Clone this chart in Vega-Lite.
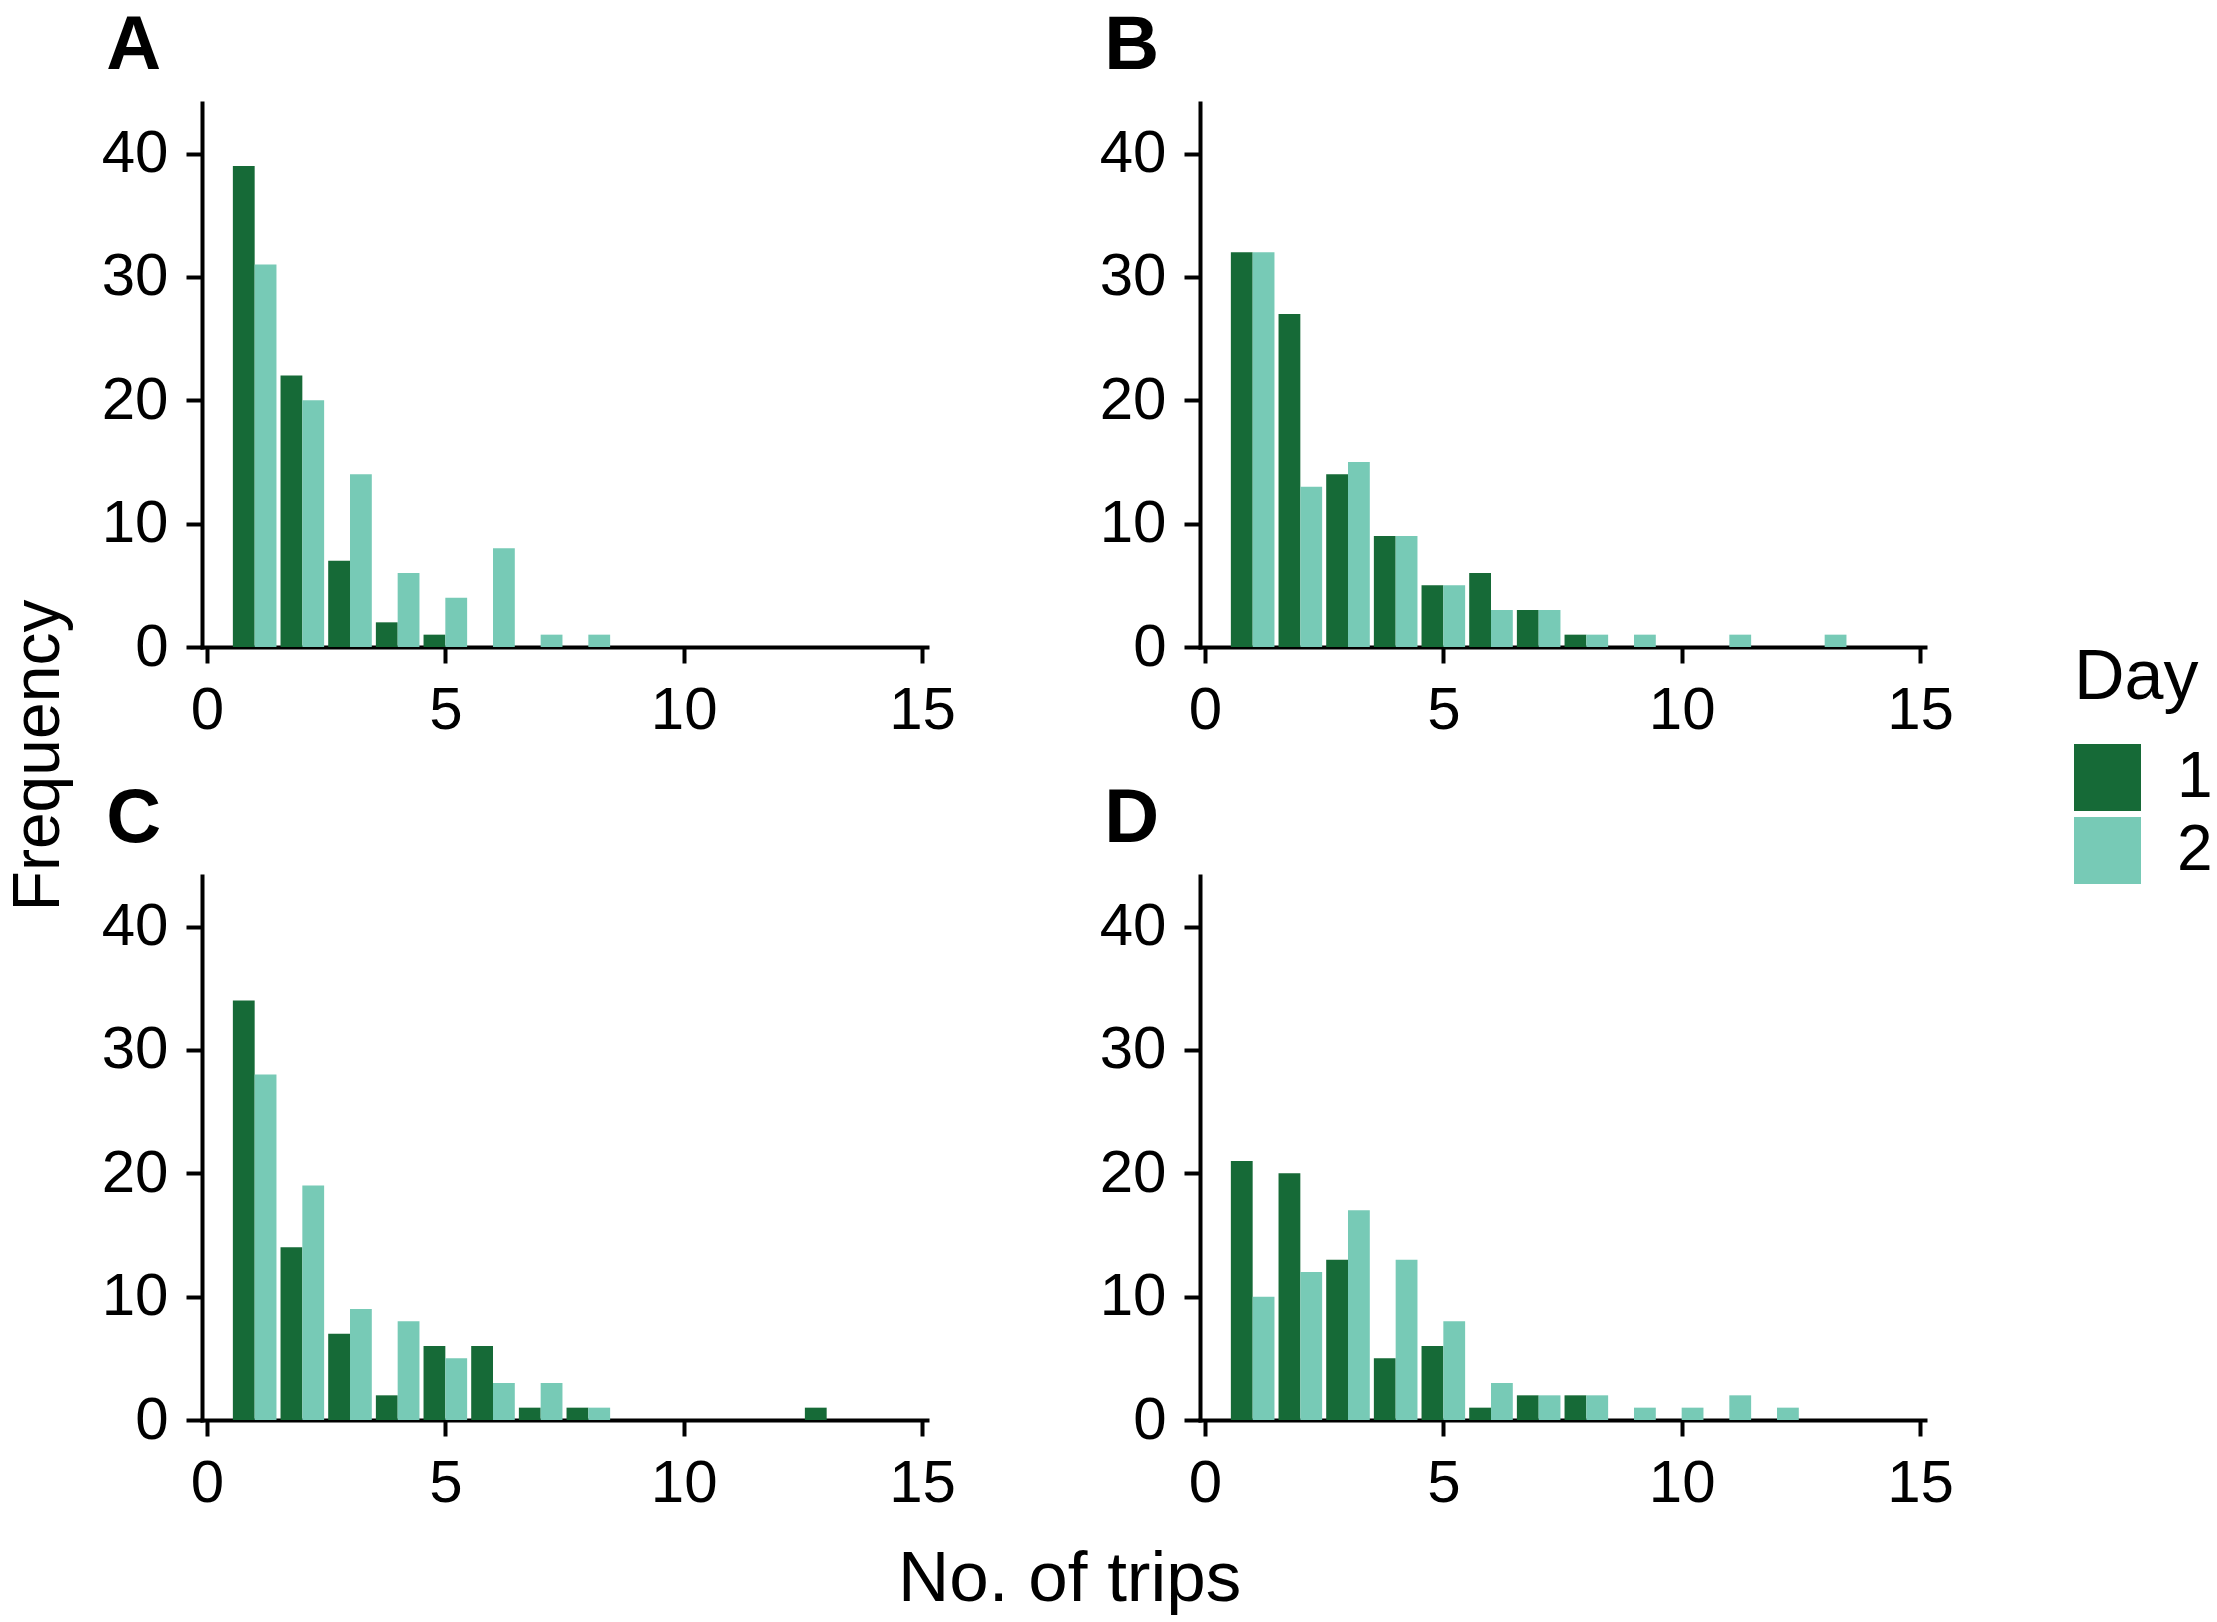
{
  "$schema": "https://vega.github.io/schema/vega-lite/v6.json",
  "background": "white",
  "padding": {"left": 6, "top": 8, "right": 0, "bottom": 0},
  "data": {"values": [
    {"panel":"A","day":"1","trips":1,"freq":39},{"panel":"A","day":"1","trips":2,"freq":22},{"panel":"A","day":"1","trips":3,"freq":7},{"panel":"A","day":"1","trips":4,"freq":2},{"panel":"A","day":"1","trips":5,"freq":1},
    {"panel":"A","day":"2","trips":1,"freq":31},{"panel":"A","day":"2","trips":2,"freq":20},{"panel":"A","day":"2","trips":3,"freq":14},{"panel":"A","day":"2","trips":4,"freq":6},{"panel":"A","day":"2","trips":5,"freq":4},{"panel":"A","day":"2","trips":6,"freq":8},{"panel":"A","day":"2","trips":7,"freq":1},{"panel":"A","day":"2","trips":8,"freq":1},
    {"panel":"B","day":"1","trips":1,"freq":32},{"panel":"B","day":"1","trips":2,"freq":27},{"panel":"B","day":"1","trips":3,"freq":14},{"panel":"B","day":"1","trips":4,"freq":9},{"panel":"B","day":"1","trips":5,"freq":5},{"panel":"B","day":"1","trips":6,"freq":6},{"panel":"B","day":"1","trips":7,"freq":3},{"panel":"B","day":"1","trips":8,"freq":1},
    {"panel":"B","day":"2","trips":1,"freq":32},{"panel":"B","day":"2","trips":2,"freq":13},{"panel":"B","day":"2","trips":3,"freq":15},{"panel":"B","day":"2","trips":4,"freq":9},{"panel":"B","day":"2","trips":5,"freq":5},{"panel":"B","day":"2","trips":6,"freq":3},{"panel":"B","day":"2","trips":7,"freq":3},{"panel":"B","day":"2","trips":8,"freq":1},{"panel":"B","day":"2","trips":9,"freq":1},{"panel":"B","day":"2","trips":11,"freq":1},{"panel":"B","day":"2","trips":13,"freq":1},
    {"panel":"C","day":"1","trips":1,"freq":34},{"panel":"C","day":"1","trips":2,"freq":14},{"panel":"C","day":"1","trips":3,"freq":7},{"panel":"C","day":"1","trips":4,"freq":2},{"panel":"C","day":"1","trips":5,"freq":6},{"panel":"C","day":"1","trips":6,"freq":6},{"panel":"C","day":"1","trips":7,"freq":1},{"panel":"C","day":"1","trips":8,"freq":1},{"panel":"C","day":"1","trips":13,"freq":1},
    {"panel":"C","day":"2","trips":1,"freq":28},{"panel":"C","day":"2","trips":2,"freq":19},{"panel":"C","day":"2","trips":3,"freq":9},{"panel":"C","day":"2","trips":4,"freq":8},{"panel":"C","day":"2","trips":5,"freq":5},{"panel":"C","day":"2","trips":6,"freq":3},{"panel":"C","day":"2","trips":7,"freq":3},{"panel":"C","day":"2","trips":8,"freq":1},
    {"panel":"D","day":"1","trips":1,"freq":21},{"panel":"D","day":"1","trips":2,"freq":20},{"panel":"D","day":"1","trips":3,"freq":13},{"panel":"D","day":"1","trips":4,"freq":5},{"panel":"D","day":"1","trips":5,"freq":6},{"panel":"D","day":"1","trips":6,"freq":1},{"panel":"D","day":"1","trips":7,"freq":2},{"panel":"D","day":"1","trips":8,"freq":2},
    {"panel":"D","day":"2","trips":1,"freq":10},{"panel":"D","day":"2","trips":2,"freq":12},{"panel":"D","day":"2","trips":3,"freq":17},{"panel":"D","day":"2","trips":4,"freq":13},{"panel":"D","day":"2","trips":5,"freq":8},{"panel":"D","day":"2","trips":6,"freq":3},{"panel":"D","day":"2","trips":7,"freq":2},{"panel":"D","day":"2","trips":8,"freq":2},{"panel":"D","day":"2","trips":9,"freq":1},{"panel":"D","day":"2","trips":10,"freq":1},{"panel":"D","day":"2","trips":11,"freq":2},{"panel":"D","day":"2","trips":12,"freq":1}
  ]},
  "title": {"text": "No. of trips", "orient": "bottom", "anchor": "middle", "fontSize": 71, "fontWeight": "normal", "baseline": "alphabetic", "offset": 88, "dx": -40, "frame": "bounds"},
  "resolve": {"scale": {"color": "shared"}, "legend": {"color": "shared"}},
  "vconcat": [
    {
      "title": {"text": "Frequency", "orient": "left", "anchor": "middle", "fontSize": 66, "fontWeight": "normal", "baseline": "alphabetic", "offset": -24, "frame": "bounds"},
      "columns": 2,
      "spacing": {"column": 143, "row": 41},
      "resolve": {"scale": {"color": "shared"}, "legend": {"color": "shared"}},
      "concat": [
        {
          "title": {"text": "A"},
          "width": 725, "height": 544,
          "transform": [{"filter": "datum.panel === 'A'"}],
          "encoding": {
            "x": {"field": "trips", "type": "quantitative", "scale": {"domain": [0, 15], "nice": false, "zero": false}, "axis": {"values": [0, 5, 10, 15], "title": null}},
            "y": {"field": "freq", "type": "quantitative", "scale": {"domain": [0, 44.1], "nice": false}, "axis": {"values": [0, 10, 20, 30, 40], "title": null}},
            "color": {"field": "day", "type": "nominal", "scale": {"domain": ["1", "2"], "range": ["#166a37", "#77cab6"]}, "legend": {"title": "Day", "orient": "none", "legendX": 1872, "legendY": 541}}
          },
          "layer": [
            {"transform": [{"filter": "datum.day === '1'"}], "mark": {"type": "bar", "width": 21.8, "xOffset": -10.9}},
            {"transform": [{"filter": "datum.day === '2'"}], "mark": {"type": "bar", "width": 21.8, "xOffset": 10.9}}
          ]
        },
        {
          "title": {"text": "B"},
          "width": 725, "height": 544,
          "transform": [{"filter": "datum.panel === 'B'"}],
          "encoding": {
            "x": {"field": "trips", "type": "quantitative", "scale": {"domain": [0, 15], "nice": false, "zero": false}, "axis": {"values": [0, 5, 10, 15], "title": null}},
            "y": {"field": "freq", "type": "quantitative", "scale": {"domain": [0, 44.1], "nice": false}, "axis": {"values": [0, 10, 20, 30, 40], "title": null}},
            "color": {"field": "day", "type": "nominal", "scale": {"domain": ["1", "2"], "range": ["#166a37", "#77cab6"]}, "legend": {"title": "Day", "orient": "none", "legendX": 1872, "legendY": 541}}
          },
          "layer": [
            {"transform": [{"filter": "datum.day === '1'"}], "mark": {"type": "bar", "width": 21.8, "xOffset": -10.9}},
            {"transform": [{"filter": "datum.day === '2'"}], "mark": {"type": "bar", "width": 21.8, "xOffset": 10.9}}
          ]
        },
        {
          "title": {"text": "C"},
          "width": 725, "height": 544,
          "transform": [{"filter": "datum.panel === 'C'"}],
          "encoding": {
            "x": {"field": "trips", "type": "quantitative", "scale": {"domain": [0, 15], "nice": false, "zero": false}, "axis": {"values": [0, 5, 10, 15], "title": null}},
            "y": {"field": "freq", "type": "quantitative", "scale": {"domain": [0, 44.1], "nice": false}, "axis": {"values": [0, 10, 20, 30, 40], "title": null}},
            "color": {"field": "day", "type": "nominal", "scale": {"domain": ["1", "2"], "range": ["#166a37", "#77cab6"]}, "legend": {"title": "Day", "orient": "none", "legendX": 1872, "legendY": 541}}
          },
          "layer": [
            {"transform": [{"filter": "datum.day === '1'"}], "mark": {"type": "bar", "width": 21.8, "xOffset": -10.9}},
            {"transform": [{"filter": "datum.day === '2'"}], "mark": {"type": "bar", "width": 21.8, "xOffset": 10.9}}
          ]
        },
        {
          "title": {"text": "D"},
          "width": 725, "height": 544,
          "transform": [{"filter": "datum.panel === 'D'"}],
          "encoding": {
            "x": {"field": "trips", "type": "quantitative", "scale": {"domain": [0, 15], "nice": false, "zero": false}, "axis": {"values": [0, 5, 10, 15], "title": null}},
            "y": {"field": "freq", "type": "quantitative", "scale": {"domain": [0, 44.1], "nice": false}, "axis": {"values": [0, 10, 20, 30, 40], "title": null}},
            "color": {"field": "day", "type": "nominal", "scale": {"domain": ["1", "2"], "range": ["#166a37", "#77cab6"]}, "legend": {"title": "Day", "orient": "none", "legendX": 1872, "legendY": 541}}
          },
          "layer": [
            {"transform": [{"filter": "datum.day === '1'"}], "mark": {"type": "bar", "width": 21.8, "xOffset": -10.9}},
            {"transform": [{"filter": "datum.day === '2'"}], "mark": {"type": "bar", "width": 21.8, "xOffset": 10.9}}
          ]
        }
      ]
    }
  ],
  "config": {
    "view": {"stroke": null},
    "font": "Liberation Sans",
    "axis": {"grid": false, "domainColor": "black", "domainWidth": 4, "domainCap": "square", "tickColor": "black", "tickWidth": 4, "tickSize": 16, "labelFontSize": 60, "labelColor": "black", "labelFont": "Liberation Sans", "labelOverlap": false, "labelFlush": false},
    "axisX": {"labelPadding": 18},
    "axisY": {"labelPadding": 18},
    "title": {"fontSize": 76, "fontWeight": "bold", "anchor": "start", "frame": "bounds", "color": "black", "baseline": "alphabetic", "offset": 18, "dx": 5, "font": "Liberation Sans"},
    "legend": {"titleFontSize": 70, "titleFontWeight": "normal", "titleColor": "black", "titleFont": "Liberation Sans", "titlePadding": 30, "labelFontSize": 64, "labelColor": "black", "labelFont": "Liberation Sans", "labelOffset": 36, "symbolType": "square", "symbolSize": 4489, "symbolStrokeWidth": 0, "symbolOpacity": 1, "rowPadding": 6}
  }
}
